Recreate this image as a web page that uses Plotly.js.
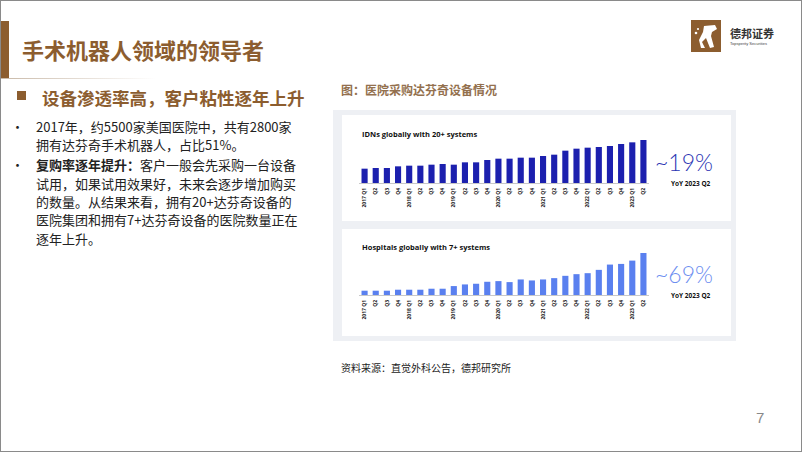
<!DOCTYPE html>
<html>
<head>
<meta charset="utf-8">
<script src="https://cdn.plot.ly/plotly-3.0.1.min.js"></script>
<style>
    body { margin: 0; }
    #slide {
        position: relative; width: 800px; height: 450px; background: #fff;
        border: 1px solid #8a8a8a; overflow: hidden;
        font-family: "Noto Sans CJK SC", "Noto Sans", sans-serif;
    }
    .abs { position: absolute; white-space: nowrap; }
    #side-bar { left: 0; top: 20px; width: 8px; height: 57px; background: #8c5d2f; }
    #title-line { left: 0; top: 77px; width: 155px; height: 1px;
        background: linear-gradient(to right, #c9b9a8, #ffffff); }
    #title { left: 21px; top: 32px; font-size: 22px; font-weight: bold; color: #8c5d2f; }
    #sub-square { left: 16px; top: 90px; width: 9px; height: 9px; background: #8c5d2f; }
    #sub-title { left: 41px; top: 84px; font-size: 17.5px; font-weight: bold; color: #8c5d2f; }
    #caption { left: 340px; top: 80px; font-size: 12px; font-weight: bold; color: #93704e; }
    .bul { left: 10px; font-size: 13px; color: #222; }
    .line { left: 35px; font-size: 13px; color: #222; }
    #panel { left: 332px; top: 109px; width: 403px; height: 231px; background: #eef0f4; }
    .card { left: 341px; width: 389px; background: #fff; }
    #source { left: 340px; top: 359px; font-size: 10px; color: #222; }
    #page-no { left: 755px; top: 408px; font-size: 15px; color: #888; font-family: "Liberation Sans", sans-serif; }
    #logo-box { left: 690px; top: 19px; width: 30px; height: 32px; background: #8c5d2f; }
    #logo-name { left: 729px; top: 24px; font-size: 11px; font-weight: bold; color: #333; }
    #logo-en { left: 729px; top: 40px; font-size: 4px; color: #444; font-family: "Liberation Sans", sans-serif; }
</style>
</head>
<body>
<div id="slide">
    <div id="side-bar" class="abs"></div>
    <div id="title-line" class="abs"></div>
    <div id="title" class="abs">手术机器人领域的领导者</div>

    <div id="logo-box" class="abs">
        <svg width="30" height="32" viewBox="0 0 30 32">
            <path d="M13 6 L24 5 L26 9 L21 12 L20 16 L23 27 L19 28 L15 18 L11 22 L14 28 L10 28 L8 20 L12 12 Z" fill="#fff"/>
            <circle cx="5" cy="13" r="1.3" fill="#fff"/>
            <circle cx="7" cy="9" r="1.1" fill="#fff"/>
        </svg>
    </div>
    <div id="logo-name" class="abs">德邦证券</div>
    <div id="logo-en" class="abs">Topsperity Securities</div>

    <div id="sub-square" class="abs"></div>
    <div id="sub-title" class="abs">设备渗透率高，客户粘性逐年上升</div>
    <div id="caption" class="abs">图：医院采购达芬奇设备情况</div>

    <div class="abs bul" style="top:116px">•</div>
    <div class="abs line" style="top:116px">2017年，约5500家美国医院中，共有2800家</div>
    <div class="abs line" style="top:134px">拥有达芬奇手术机器人，占比51%。</div>
    <div class="abs bul" style="top:154px">•</div>
    <div class="abs line" style="top:154px"><b>复购率逐年提升：</b>客户一般会先采购一台设备</div>
    <div class="abs line" style="top:173px">试用，如果试用效果好，未来会逐步增加购买</div>
    <div class="abs line" style="top:191px">的数量。从结果来看，拥有20+达芬奇设备的</div>
    <div class="abs line" style="top:209px">医院集团和拥有7+达芬奇设备的医院数量正在</div>
    <div class="abs line" style="top:228px">逐年上升。</div>

    <div id="panel" class="abs"></div>
    <div class="abs card" style="top:114px; height:106px"></div>
    <div class="abs card" style="top:228px; height:107px"></div>
    <div id="idn-chart" class="abs" style="left:342px; top:115px; width:388px; height:105px"></div>
    <div id="hosp-chart" class="abs" style="left:342px; top:228px; width:388px; height:107px"></div>

    <div id="source" class="abs">资料来源：直觉外科公告，德邦研究所</div>
    <div id="page-no" class="abs">7</div>
</div>

<script>
// quarters 2017 Q1 .. 2023 Q2
const quarters = [
    '2017 Q1', '2017 Q2', '2017 Q3', '2017 Q4',
    '2018 Q1', '2018 Q2', '2018 Q3', '2018 Q4',
    '2019 Q1', '2019 Q2', '2019 Q3', '2019 Q4',
    '2020 Q1', '2020 Q2', '2020 Q3', '2020 Q4',
    '2021 Q1', '2021 Q2', '2021 Q3', '2021 Q4',
    '2022 Q1', '2022 Q2', '2022 Q3', '2022 Q4',
    '2023 Q1', '2023 Q2'
];
const tickLabels = [
    '2017 Q1', 'Q2', 'Q3', 'Q4',
    '2018 Q1', 'Q2', 'Q3', 'Q4',
    '2019 Q1', 'Q2', 'Q3', 'Q4',
    '2020 Q1', 'Q2', 'Q3', 'Q4',
    '2021 Q1', 'Q2', 'Q3', 'Q4',
    '2022 Q1', 'Q2', 'Q3', 'Q4',
    '2023 Q1', 'Q2'
];

// bar heights (relative units, no axis shown)
const idnValues = [43, 45, 45, 50, 52, 52, 55, 57, 55, 62, 62, 69, 73,
                   73, 76, 76, 81, 85, 97, 103, 106, 108, 111, 117, 122, 129];
const hospitalValues = [13, 13, 13, 16, 16, 16, 19, 19, 27, 32, 34, 40, 42,
                        39, 47, 44, 47, 51, 58, 63, 66, 76, 92, 94, 104, 127];

const idnTitle = 'IDNs globally with 20+ systems';
const hospTitle = 'Hospitals globally with 7+ systems';
const idnGrowth = '~19%';
const hospGrowth = '~69%';
const growthNote = 'YoY 2023 Q2';

const boldFont = '"Open Sans", Lato, sans-serif';
const thinFont = '"Lato Light", Lato, "Open Sans", sans-serif';

function drawBars(id, values, title, growth, barColor, growthColor, margin, yMax, growthY) {
    var trace = {
        x: quarters,
        y: values,
        type: 'bar',
        marker: { color: barColor },
        hoverinfo: 'none'
    };

    var layout = {
        margin: margin,
        paper_bgcolor: 'rgba(0,0,0,0)',
        plot_bgcolor: 'rgba(0,0,0,0)',
        showlegend: false,
        bargap: 0.45,
        xaxis: {
            type: 'category',
            tickvals: quarters,
            ticktext: tickLabels,
            tickangle: -90,
            ticks: '',
            ticklabelstandoff: 2,
            tickfont: { family: boldFont, size: 5, color: '#222', weight: 'bold' },
            showline: true,
            linecolor: '#c8c8c8',
            linewidth: 1,
            showgrid: false,
            zeroline: false,
            fixedrange: true
        },
        yaxis: {
            range: [0, yMax],
            visible: false,
            fixedrange: true
        },
        annotations: [
            {
                text: title, xref: 'paper', yref: 'paper', x: 0.005, y: 1.12,
                xanchor: 'left', yanchor: 'middle', showarrow: false,
                font: { family: boldFont, size: 7.5, color: '#111', weight: 'bold' }
            },
            {
                text: growth, xref: 'paper', yref: 'paper', x: 1.121, y: growthY,
                xanchor: 'center', yanchor: 'middle', showarrow: false,
                font: { family: thinFont, size: 23, color: growthColor, weight: 300 }
            },
            {
                text: growthNote, xref: 'paper', yref: 'paper', x: 1.145, y: 0.0,
                xanchor: 'center', yanchor: 'middle', showarrow: false,
                font: { family: boldFont, size: 6.5, color: '#111', weight: 'bold' }
            }
        ]
    };

    Plotly.newPlot(id, [trace], layout, { staticPlot: true, displayModeBar: false });
}

drawBars('idn-chart', idnValues, idnTitle, idnGrowth, '#1c20ae', '#2b35b3',
         { l: 16, r: 82, t: 23, b: 38 }, 132, 0.48);
drawBars('hosp-chart', hospitalValues, hospTitle, hospGrowth, '#5a80ef', '#6d8ef0',
         { l: 16, r: 82, t: 23, b: 41 }, 130, 0.49);
</script>
</body>
</html>
